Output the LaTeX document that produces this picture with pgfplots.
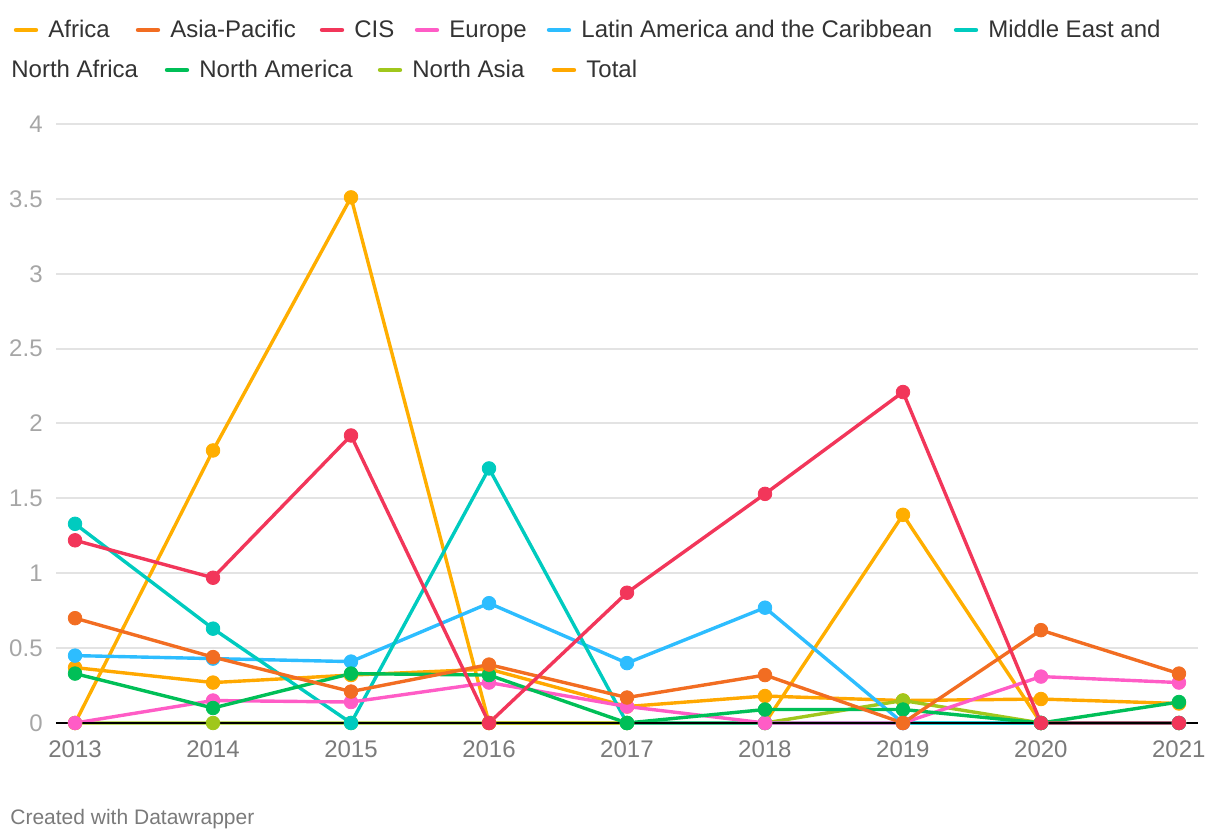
\documentclass[border=0pt]{standalone}
\usepackage{fontspec}
\setmainfont{Liberation Sans}
\usepackage{pgfplots}
\pgfplotsset{compat=1.18}
\usepackage{pgfplotstable}

\definecolor{cAfrica}{HTML}{FFAE00}
\definecolor{cAsia}{HTML}{F26D22}
\definecolor{cCIS}{HTML}{F2365A}
\definecolor{cEurope}{HTML}{FF5CC6}
\definecolor{cLatin}{HTML}{2DBDFF}
\definecolor{cMENA}{HTML}{00CBBF}
\definecolor{cNA}{HTML}{00BF57}
\definecolor{cNAsia}{HTML}{A0C71C}
\definecolor{cTotal}{HTML}{FFA800}
\definecolor{cGrid}{HTML}{E3E3E3}
\definecolor{cYlab}{HTML}{A6A6A6}
\definecolor{cXlab}{HTML}{7A7A7A}
\definecolor{cText}{HTML}{333333}

\pgfplotstableread{
year Africa Asia CIS Europe Latin MENA NA NAsia Total
2013 0    0.70 1.22 0    0.45 1.33 0.33 0    0.37
2014 1.82 0.44 0.97 0.15 0.43 0.63 0.10 0    0.27
2015 3.51 0.21 1.92 0.14 0.41 0    0.33 0    0.32
2016 0    0.39 0    0.27 0.80 1.70 0.32 0    0.36
2017 0    0.17 0.87 0.11 0.40 0    0    0    0.11
2018 0    0.32 1.53 0    0.77 0    0.09 0    0.18
2019 1.39 0    2.21 0    0    0    0.09 0.15 0.15
2020 0    0.62 0    0.31 0    0    0    0    0.16
2021 0    0.33 0    0.27 0    0    0.14 0    0.13
}\data

\newcommand{\lineplot}[2]{\addplot[color=#1, line width=1.7pt, line join=round, mark=none] table[x=year,y=#2]{\data};}
\newcommand{\markplot}[2]{\addplot[color=#1, only marks, mark=*, mark size=3.4pt, mark options={draw=none, fill=#1}] table[x=year,y=#2]{\data};}
% #1 colour, #2 text x (px), #3 swatch y (pt), #4 text
\newcommand{\legitem}[4]{%
  \pgfmathsetmacro{\xa}{(#2-32)*0.5}%
  \pgfmathsetmacro{\xb}{(#2-12)*0.5}%
  \pgfmathsetmacro{\xt}{#2*0.5}%
  \pgfmathsetmacro{\yt}{#3-4}%
  \draw[#1, line width=2.2pt, line cap=round] (\xa pt, #3 pt) -- (\xb pt, #3 pt);
  \node[anchor=base west, inner sep=0pt, text=cText, font=\fontsize{12}{14}\selectfont] at (\xt pt, \yt pt) {#4};}

\begin{document}
\begin{tikzpicture}
\path[use as bounding box] (0,0) rectangle (610pt,420pt);
\begin{axis}[
  at={(28pt,58.5pt)}, anchor=south west,
  scale only axis, width=571pt, height=299.5pt,
  xmin=2012.862, xmax=2021.138, ymin=0, ymax=4,
  xtick={2013,2014,...,2021},
  ytick={0,0.5,...,4},
  clip=false,
  axis line style={draw=none},
  major tick length=0pt,
  ymajorgrids, grid style={cGrid, line width=1pt},
  /pgf/number format/assume math mode=true,
  x tick label style={/pgf/number format/1000 sep={}, anchor=base, yshift=-17.5pt, inner sep=0pt, text=cXlab, font=\fontsize{12}{14}\selectfont},
  y tick label style={anchor=east, inner sep=0pt, xshift=-6.5pt, text=cYlab, font=\fontsize{12}{14}\selectfont},
]
\lineplot{cTotal}{Total}
\lineplot{cAfrica}{Africa}
\lineplot{cNAsia}{NAsia}
\lineplot{cLatin}{Latin}
\lineplot{cMENA}{MENA}
\lineplot{cEurope}{Europe}
\lineplot{cNA}{NA}
\lineplot{cAsia}{Asia}
\lineplot{cCIS}{CIS}
\draw[black, line width=1pt] (axis cs:2012.862,0) -- (axis cs:2021.138,0);
\markplot{cTotal}{Total}
\markplot{cAfrica}{Africa}
\markplot{cNAsia}{NAsia}
\markplot{cLatin}{Latin}
\markplot{cMENA}{MENA}
\markplot{cEurope}{Europe}
\markplot{cNA}{NA}
\markplot{cAsia}{Asia}
\markplot{cCIS}{CIS}
\end{axis}
% legend row 1
\legitem{cAfrica}{48}{405}{Africa}
\legitem{cAsia}{170}{405}{Asia-Pacific}
\legitem{cCIS}{354}{405}{CIS}
\legitem{cEurope}{449}{405}{Europe}
\legitem{cLatin}{581}{405}{Latin America and the Caribbean}
\legitem{cMENA}{988}{405}{Middle East and}
% legend row 2
\node[anchor=base west, inner sep=0pt, text=cText, font=\fontsize{12}{14}\selectfont] at (5.5pt,381pt) {North Africa};
\legitem{cNA}{199}{385}{North America}
\legitem{cNAsia}{412}{385}{North Asia}
\legitem{cTotal}{586}{385}{Total}
% footer
\node[anchor=base west, inner sep=0pt, text=cXlab, font=\fontsize{10.5}{12}\selectfont] at (5pt,7.5pt) {Created with Datawrapper};
\end{tikzpicture}
\end{document}
